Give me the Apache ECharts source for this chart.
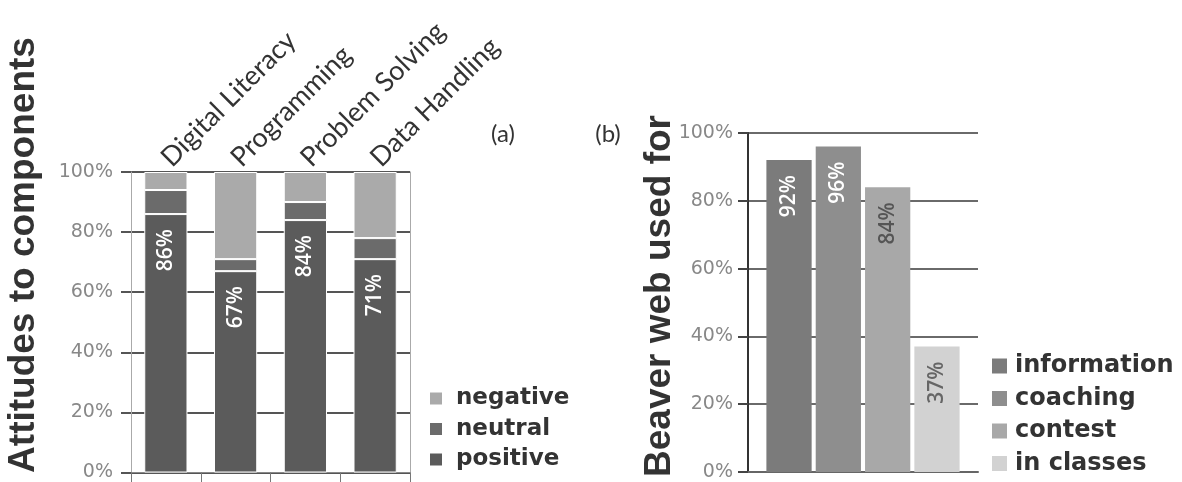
<!DOCTYPE html>
<html>
<head>
<meta charset="utf-8">
<script src="https://cdn.jsdelivr.net/npm/echarts@6/dist/echarts.min.js"></script>
<style>
html,body{margin:0;padding:0;background:#fff;}
#chart{width:1182px;height:482px;}
</style>
</head>
<body>
<div id="chart"></div>
<script>
// (a) Attitudes to components
const categories = ['Digital Literacy', 'Programming', 'Problem Solving', 'Data Handling'];
const positive = [86, 67, 84, 71];
const neutral = [8, 4, 6, 7];
const negative = [6, 29, 10, 22];

// (b) Beaver web used for
const useNames = ['information', 'coaching', 'contest', 'in classes'];
const useValues = [92, 96, 84, 37];

// axis ticks (percent)
const yMin = 0, yMax = 100, yStep = 20;

const useColors = ['#7b7b7b', '#8e8e8e', '#a8a8a8', '#d2d2d2'];
const useLabelColors = ['#ffffff', '#ffffff', '#555555', '#666666'];

const chart = echarts.init(document.getElementById('chart'), null, {renderer: 'canvas'});

const valueLabel = (color) => ({
  show: true,
  position: 'insideTop',
  distance: 15,
  rotate: 90,
  align: 'right',
  verticalAlign: 'middle',
  formatter: '{c}%',
  color: color,
  fontFamily: 'Open Sans',
  fontWeight: 600,
  fontSize: 21
});

const series = [
  {name: 'positive', type: 'bar', stack: 'att', xAxisIndex: 0, yAxisIndex: 0,
   data: positive, barWidth: '62%',
   itemStyle: {color: '#5b5b5b', borderColor: '#fff', borderWidth: 1},
   label: valueLabel('#ffffff')},
  {name: 'neutral', type: 'bar', stack: 'att', xAxisIndex: 0, yAxisIndex: 0,
   data: neutral, barWidth: '62%',
   itemStyle: {color: '#6b6b6b', borderColor: '#fff', borderWidth: 1}},
  {name: 'negative', type: 'bar', stack: 'att', xAxisIndex: 0, yAxisIndex: 0,
   data: negative, barWidth: '62%',
   itemStyle: {color: '#aaaaaa', borderColor: '#fff', borderWidth: 1}}
];
useNames.forEach((n, i) => {
  series.push({
    name: n, type: 'bar', xAxisIndex: 2, yAxisIndex: 2,
    data: [useValues[i]],
    barGap: '9%', barCategoryGap: '16%',
    itemStyle: {color: useColors[i]},
    label: valueLabel(useLabelColors[i])
  });
});

const tickFont = {fontFamily: 'DejaVu Sans', fontSize: 19, color: '#888'};
const legendText = (size, pad) => ({fontFamily: 'DejaVu Sans', fontWeight: 'bold', fontSize: size, color: '#333', padding: [0, 0, 0, pad]});

chart.setOption({
  animation: false,
  backgroundColor: '#fff',
  grid: [
    {left: 131, top: 172, width: 279, height: 301},
    {left: 748, top: 133, width: 230, height: 339}
  ],
  xAxis: [
    {gridIndex: 0, type: 'category', position: 'top', data: categories,
     axisLine: {show: false}, axisTick: {show: false},
     axisLabel: {interval: 0, rotate: 45, margin: 10, fontFamily: 'Lato', fontSize: 27, color: '#333'}},
    {gridIndex: 0, type: 'category', position: 'bottom', data: categories,
     axisLine: {show: true, lineStyle: {color: '#888', width: 1}},
     axisTick: {show: true, interval: 0, length: 10, lineStyle: {color: '#777', width: 1}},
     axisLabel: {show: false, interval: 0}},
    {gridIndex: 1, type: 'category', data: [''],
     axisLine: {show: true, lineStyle: {color: '#666', width: 2}},
     axisTick: {show: false}, axisLabel: {show: false}}
  ],
  yAxis: [
    {gridIndex: 0, type: 'value', min: yMin, max: yMax, interval: yStep,
     axisLine: {show: true, lineStyle: {color: '#aaa', width: 1}},
     axisTick: {show: true, length: 10, lineStyle: {color: '#555', width: 2}},
     axisLabel: Object.assign({formatter: '{value}%', margin: 18}, tickFont),
     splitLine: {show: true, lineStyle: {color: '#555', width: 2}}},
    {gridIndex: 0, type: 'value', position: 'right', min: yMin, max: yMax, interval: yStep,
     axisLine: {show: true, lineStyle: {color: '#aaa', width: 1}},
     axisTick: {show: false}, axisLabel: {show: false}, splitLine: {show: false}},
    {gridIndex: 1, type: 'value', min: yMin, max: yMax, interval: yStep,
     axisLine: {show: true, lineStyle: {color: '#333', width: 2}},
     axisTick: {show: true, length: 10, lineStyle: {color: '#444', width: 2}},
     axisLabel: Object.assign({formatter: '{value}%', margin: 15}, tickFont),
     splitLine: {show: true, lineStyle: {color: '#6a6a6a', width: 2}}}
  ],
  legend: [
    {data: ['negative', 'neutral', 'positive'], orient: 'vertical', left: 428, top: 387, height: 95,
     padding: 0, icon: 'rect', itemWidth: 14, itemHeight: 14, itemGap: 7.5, textStyle: legendText(23, 8)},
    {data: useNames, orient: 'vertical', left: 992, top: 354, height: 128,
     padding: 0, icon: 'rect', itemWidth: 15, itemHeight: 15, itemGap: 8.5, textStyle: legendText(24, 3)}
  ],
  graphic: [
    {type: 'text', x: 24, y: 255, rotation: Math.PI / 2,
     style: {text: 'Attitudes to components', fontFamily: 'Liberation Sans', fontWeight: 'bold', fontSize: 37,
             fill: '#333', align: 'center', verticalAlign: 'middle'}},
    {type: 'text', x: 660, y: 296, rotation: Math.PI / 2,
     style: {text: 'Beaver web used for', fontFamily: 'Liberation Sans', fontWeight: 'bold', fontSize: 37,
             fill: '#333', align: 'center', verticalAlign: 'middle'}},
    {type: 'text', x: 503, y: 134,
     style: {text: '(a)', fontFamily: 'Lato', fontSize: 24, fill: '#333', align: 'center', verticalAlign: 'middle'}},
    {type: 'text', x: 608, y: 134,
     style: {text: '(b)', fontFamily: 'Lato', fontSize: 24, fill: '#333', align: 'center', verticalAlign: 'middle'}}
  ],
  series: series
});
</script>
</body>
</html>
